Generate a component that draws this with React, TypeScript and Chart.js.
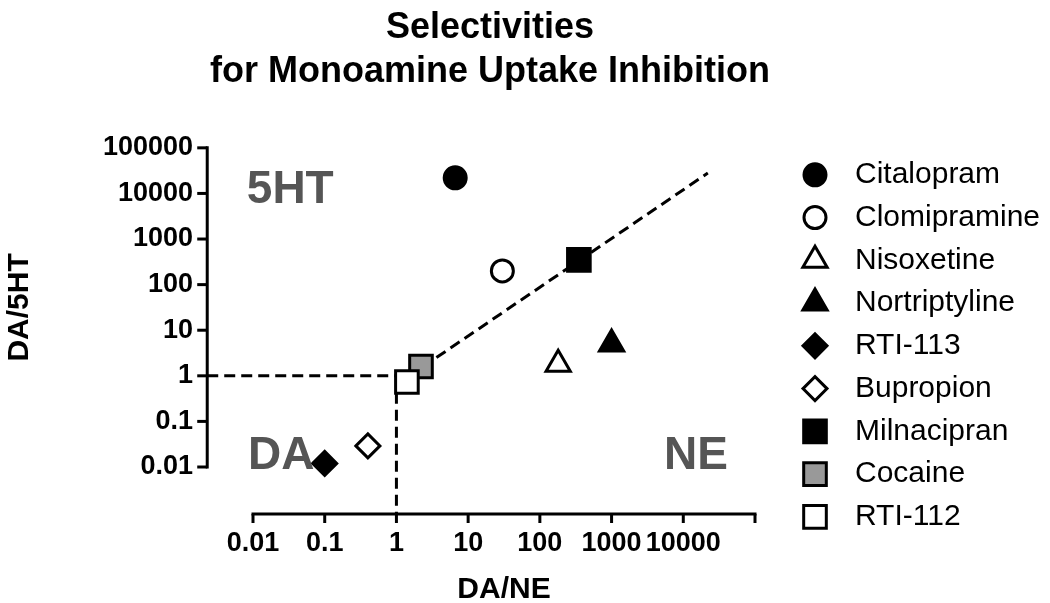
import React, { useEffect, useRef } from 'react';
import { Chart, registerables } from 'chart.js';
import { drawPoint } from 'chart.js/helpers';

Chart.register(...registerables);

// ---- data ----
const compounds = ['Citalopram', 'Clomipramine', 'Nisoxetine', 'Nortriptyline', 'RTI-113', 'Bupropion', 'Milnacipran', 'Cocaine', 'RTI-112'];
const daNe = [6.6, 30, 180, 1000, 0.1, 0.4, 350, 2.2, 1.4];
const da5ht = [22000, 200, 1.8, 5, 0.012, 0.029, 350, 1.6, 0.73];
const markerStyles = ['circle', 'circle', 'triangle', 'triangle', 'rectRot', 'rectRot', 'rect', 'rect', 'rect'];
const markerFills = ['#000000', '#ffffff', '#ffffff', '#000000', '#000000', '#ffffff', '#000000', '#999999', '#ffffff'];
const markerRadii = [11, 11, 14, 14, 12, 12, 16, 16, 16];

const xTicks = [0.01, 0.1, 1, 10, 100, 1000, 10000, 100000];
const xTickLabels = ['0.01', '0.1', '1', '10', '100', '1000', '10000', ''];
const yTicks = [0.01, 0.1, 1, 10, 100, 1000, 10000, 100000];
const yTickLabels = ['0.01', '0.1', '1', '10', '100', '1000', '10000', '100000'];

// reference lines
const diagonalX = [2.3, 22000];
const diagonalY = [1.55, 28000];
const horizX = [0.0023, 1];
const horizY = [1, 1];
const vertX = [1, 1];
const vertY = [1, 0.00093];

// offset axes positions (data units where axis lines sit)
const yAxisAtX = 0.0023;
const xAxisAtY = 0.00093;

// region labels
const regionText = ['5HT', 'DA', 'NE'];
const regionX = [0.0082, 0.0085, 42000];
const regionY = [11700, 0.017, 0.017];
const regionAlign = ['left', 'left', 'right'];

const FONT = '"Liberation Sans", Arial, Helvetica, sans-serif';

const offsetAxesPlugin = {
  id: 'offsetAxes',
  afterDraw(chart: any) {
    const { ctx, scales } = chart;
    const x = scales.x;
    const y = scales.y;
    const ax = x.getPixelForValue(yAxisAtX);
    const ay = y.getPixelForValue(xAxisAtY);
    ctx.save();
    ctx.strokeStyle = '#000';
    ctx.lineWidth = 3;
    ctx.lineCap = 'butt';
    // y axis
    const yTop = y.getPixelForValue(yTicks[yTicks.length - 1]);
    const yBot = y.getPixelForValue(yTicks[0]);
    ctx.beginPath();
    ctx.moveTo(ax, yTop - 1.5);
    ctx.lineTo(ax, yBot + 1.5);
    ctx.stroke();
    yTicks.forEach((v) => {
      const py = y.getPixelForValue(v);
      ctx.beginPath();
      ctx.moveTo(ax - 10, py);
      ctx.lineTo(ax, py);
      ctx.stroke();
    });
    // x axis
    const xL = x.getPixelForValue(xTicks[0]);
    const xR = x.getPixelForValue(xTicks[xTicks.length - 1]);
    ctx.beginPath();
    ctx.moveTo(xL - 1.5, ay);
    ctx.lineTo(xR + 1.5, ay);
    ctx.stroke();
    xTicks.forEach((v) => {
      const px = x.getPixelForValue(v);
      ctx.beginPath();
      ctx.moveTo(px, ay);
      ctx.lineTo(px, ay + 9);
      ctx.stroke();
    });

    // region labels
    ctx.fillStyle = '#555555';
    ctx.font = `bold 46px ${FONT}`;
    ctx.textBaseline = 'middle';
    regionText.forEach((t, i) => {
      ctx.textAlign = regionAlign[i] as CanvasTextAlign;
      ctx.fillText(t, x.getPixelForValue(regionX[i]), y.getPixelForValue(regionY[i]));
    });

    // legend
    const ca = chart.chartArea;
    const mx = ca.right + 60;
    const tx = ca.right + 100;
    const y0 = ca.top + 27;
    const step = 42.75;
    ctx.font = `30px ${FONT}`;
    ctx.textAlign = 'left';
    ctx.textBaseline = 'middle';
    compounds.forEach((name, i) => {
      const py = y0 + i * step;
      ctx.fillStyle = markerFills[i];
      ctx.strokeStyle = '#000';
      ctx.lineWidth = 3;
      drawPoint(ctx, { pointStyle: markerStyles[i], radius: markerRadii[i], borderWidth: 3, rotation: 0 } as any, mx, py);
      ctx.fillStyle = '#000';
      ctx.fillText(name, tx, py);
    });
    ctx.restore();
  },
};

export default function App() {
  const ref = useRef<HTMLCanvasElement>(null);
  useEffect(() => {
    document.body.style.margin = '0';
    const dashed = {
      showLine: true,
      borderColor: '#000',
      borderWidth: 3,
      borderDash: [11, 6],
      pointRadius: 0,
      fill: false,
      clip: false as any,
      order: 100,
    };
    const datasets: any[] = compounds.map((name, i) => ({
      label: name,
      data: [{ x: daNe[i], y: da5ht[i] }],
      pointStyle: markerStyles[i],
      pointRadius: markerRadii[i],
      pointBackgroundColor: markerFills[i],
      pointBorderColor: '#000',
      pointBorderWidth: 3,
      showLine: false,
      clip: false,
      order: name === 'RTI-112' ? -1 : i,
    }));
    datasets.push({ ...dashed, label: 'diag', data: diagonalX.map((v, i) => ({ x: v, y: diagonalY[i] })) });
    datasets.push({ ...dashed, label: 'horiz', data: horizX.map((v, i) => ({ x: v, y: horizY[i] })) });
    datasets.push({ ...dashed, label: 'vert', data: vertX.map((v, i) => ({ x: v, y: vertY[i] })) });

    const chart = new Chart(ref.current!, {
      type: 'scatter',
      data: { datasets },
      options: {
        animation: false,
        responsive: false,
        events: [],
        layout: { padding: { left: 0, right: 70, top: 0, bottom: 0 } },
        plugins: {
          legend: { display: false },
          tooltip: { enabled: false },
          title: {
            display: true,
            text: ['Selectivities', 'for Monoamine Uptake Inhibition'],
            color: '#000',
            font: { family: FONT, size: 36, weight: 'bold', lineHeight: 1.22 },
            padding: { top: 6, bottom: 54 },
          },
        },
        scales: {
          x: {
            type: 'logarithmic',
            position: 'bottom',
            min: 0.01,
            max: 100000,
            afterBuildTicks: (s: any) => { s.ticks = xTicks.map((value) => ({ value })); },
            afterFit: (s: any) => { s.height = 136; },
            grid: { display: false, drawTicks: false },
            border: { display: false },
            ticks: {
              autoSkip: false,
              maxRotation: 0,
              minRotation: 0,
              padding: 60,
              color: '#000',
              font: { family: FONT, size: 27, weight: 'bold' },
              callback: (_v: any, i: number) => xTickLabels[i],
            },
            title: {
              display: true,
              text: 'DA/NE',
              color: '#000',
              font: { family: FONT, size: 30, weight: 'bold', lineHeight: 0.9 },
              padding: 0,
            },
          },
          y: {
            type: 'logarithmic',
            position: 'left',
            min: 0.01,
            max: 100000,
            afterBuildTicks: (s: any) => { s.ticks = yTicks.map((value) => ({ value })); },
            afterFit: (s: any) => { s.width = 253; },
            grid: { display: false, drawTicks: false },
            border: { display: false },
            ticks: {
              autoSkip: false,
              padding: 60,
              color: '#000',
              font: { family: FONT, size: 27, weight: 'bold' },
              callback: (_v: any, i: number) => yTickLabels[i],
            },
            title: {
              display: true,
              text: 'DA/5HT',
              color: '#000',
              font: { family: FONT, size: 30, weight: 'bold', lineHeight: 1 },
              padding: { top: 5, bottom: 0 },
            },
          },
          yRight: {
            type: 'linear',
            position: 'right',
            display: true,
            afterFit: (s: any) => { s.width = 225; },
            grid: { display: false, drawTicks: false },
            border: { display: false },
            ticks: { display: false },
          },
        },
      } as any,
      plugins: [offsetAxesPlugin],
    });
    return () => chart.destroy();
  }, []);
  return (
    <div style={{ width: 1050, height: 603, position: 'relative', background: '#fff' }}>
      <canvas ref={ref} width={1050} height={603} style={{ display: 'block', width: 1050, height: 603 }} />
    </div>
  );
}
